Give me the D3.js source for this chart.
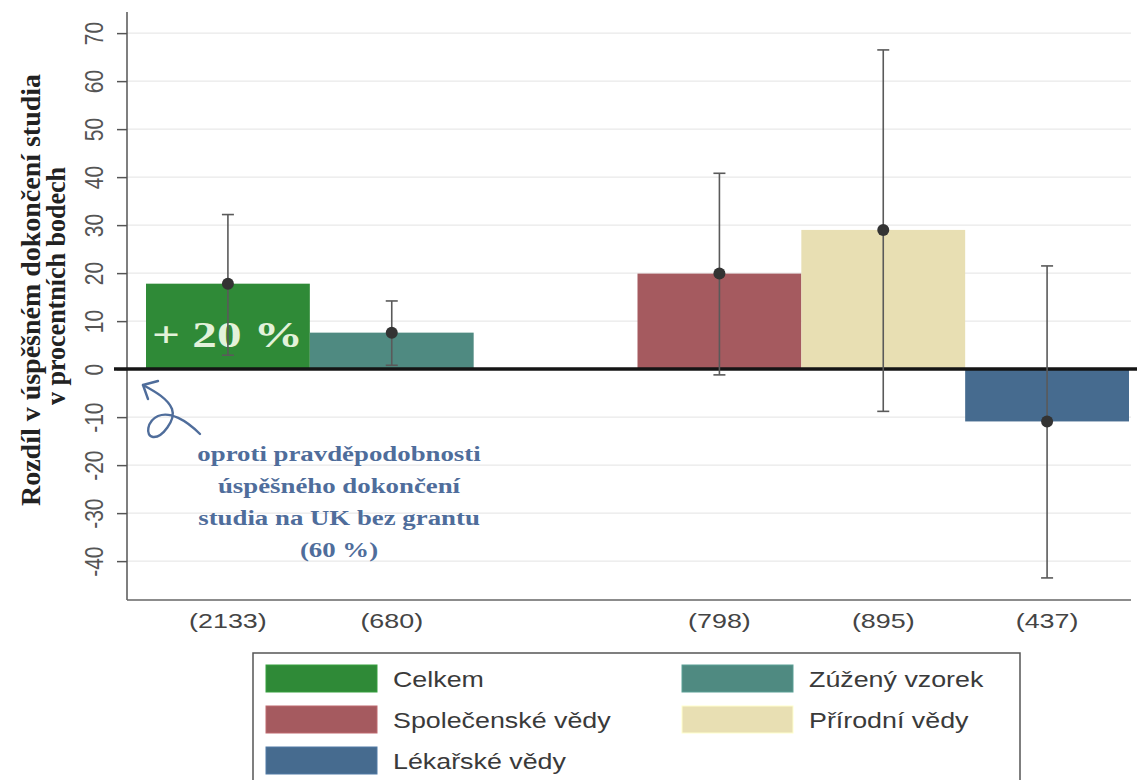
<!DOCTYPE html>
<html>
<head>
<meta charset="utf-8">
<script src="https://cdn.jsdelivr.net/npm/d3@7"></script>
<style>
  body { margin: 0; background: #fff; }
  svg { display: block; }
</style>
</head>
<body>
<svg></svg>
<script>
const WIDTH = 1137;
const HEIGHT = 780;
const SX = 1.22; // source picture is stretched sideways

// data
const categories = ["Celkem", "Zúžený vzorek", "Společenské vědy", "Přírodní vědy", "Lékařské vědy"];
const slots = [0, 1, 3, 4, 5]; // slot 2 is left empty
const values = [17.8, 7.6, 19.9, 29.0, -10.9];
const lower = [2.9, 0.8, -1.2, -8.8, -43.5];
const upper = [32.2, 14.2, 40.8, 66.5, 21.5];
const counts = ["(2133)", "(680)", "(798)", "(895)", "(437)"];
const colors = ["#2f8a37", "#4f8a81", "#a55a5f", "#e8dfb3", "#466b8f"];
const yTicks = d3.range(-40, 71, 10);
const noteLines = ["oproti pravděpodobnosti", "úspěšného dokončení", "studia na UK bez grantu", "(60 %)"];

const svg = d3.select("svg")
    .attr("width", WIDTH)
    .attr("height", HEIGHT)
    .style("font-family", "Liberation Sans, Arial, sans-serif");

const AXIS_X = 127;
const PLOT_RIGHT = 1131;

const x = d3.scaleBand()
    .domain(d3.range(6))
    .range([146, 1129])
    .paddingInner(0);

const y = d3.scaleLinear()
    .domain([-48.1, 74.4])
    .range([600, 12]);

// grid
svg.append("g")
  .selectAll("line")
  .data(yTicks)
  .join("line")
    .attr("x1", AXIS_X)
    .attr("x2", PLOT_RIGHT)
    .attr("y1", d => y(d))
    .attr("y2", d => y(d))
    .attr("stroke", "#e9e9e9")
    .attr("stroke-width", 1.2);

// y axis
const yAxis = svg.append("g")
    .attr("transform", `translate(${AXIS_X},0)`)
    .call(d3.axisLeft(y).tickValues(yTicks).tickSize(10).tickFormat(d3.format("d")));
yAxis.select(".domain").remove();
yAxis.selectAll(".tick line").attr("stroke", "#555").attr("stroke-width", 1.5);
yAxis.selectAll(".tick text").remove();
yAxis.selectAll(".tick")
  .append("text")
    .attr("transform", `translate(-24,0) scale(${SX},1) rotate(-90)`)
    .attr("text-anchor", "middle")
    .attr("fill", "#555")
    .style("font-size", "21px")
    .style("font-family", "Liberation Sans, Arial, sans-serif")
    .text(d => d);

svg.append("line")
    .attr("x1", AXIS_X).attr("x2", AXIS_X)
    .attr("y1", 12).attr("y2", 600)
    .attr("stroke", "#555").attr("stroke-width", 1.5);

// x axis
svg.append("line")
    .attr("x1", AXIS_X).attr("x2", PLOT_RIGHT)
    .attr("y1", 600).attr("y2", 600)
    .attr("stroke", "#666").attr("stroke-width", 1.5);

svg.append("g")
  .selectAll("text")
  .data(counts)
  .join("text")
    .attr("transform", (d, i) => `translate(${x(slots[i]) + x.bandwidth() / 2},628) scale(1.28,1)`)
    .attr("text-anchor", "middle")
    .attr("fill", "#444")
    .style("font-size", "21px")
    .text(d => d);

// y title
const title = svg.append("g")
    .style("font-family", "Liberation Serif, Times New Roman, serif")
    .style("font-weight", "bold")
    .attr("fill", "#222");
title.append("text")
    .attr("transform", `translate(40,290) scale(${SX},1) rotate(-90)`)
    .attr("text-anchor", "middle")
    .style("font-size", "22px")
    .attr("textLength", 432)
    .attr("lengthAdjust", "spacingAndGlyphs")
    .text("Rozdíl v úspěšném dokončení studia");
title.append("text")
    .attr("transform", `translate(65,286) scale(${SX},1) rotate(-90)`)
    .attr("text-anchor", "middle")
    .style("font-size", "22px")
    .attr("textLength", 238)
    .attr("lengthAdjust", "spacingAndGlyphs")
    .text("v procentních bodech");

// bars
svg.append("g")
  .selectAll("rect")
  .data(values)
  .join("rect")
    .attr("x", (d, i) => x(slots[i]))
    .attr("width", x.bandwidth())
    .attr("y", d => y(Math.max(0, d)))
    .attr("height", d => Math.abs(y(d) - y(0)))
    .attr("fill", (d, i) => colors[i]);

// big label on first bar
svg.append("text")
    .attr("x", 152)
    .attr("y", 347)
    .attr("fill", "#e3f2da")
    .style("font-family", "Liberation Serif, Times New Roman, serif")
    .style("font-weight", "bold")
    .style("font-size", "36px")
    .attr("textLength", 151)
    .attr("lengthAdjust", "spacingAndGlyphs")
    .text("+ 20 %");

// zero line
svg.append("line")
    .attr("x1", 114).attr("x2", WIDTH)
    .attr("y1", y(0)).attr("y2", y(0))
    .attr("stroke", "#151515").attr("stroke-width", 3.5);

// error bars
const err = svg.append("g")
  .selectAll("g")
  .data(values)
  .join("g")
    .attr("transform", (d, i) => `translate(${x(slots[i]) + x.bandwidth() / 2},0)`);
err.append("line")
    .attr("y1", (d, i) => y(lower[i]))
    .attr("y2", (d, i) => y(upper[i]))
    .attr("stroke", "#5a5a5a").attr("stroke-width", 1.6);
err.append("line")
    .attr("x1", -6).attr("x2", 6)
    .attr("y1", (d, i) => y(lower[i])).attr("y2", (d, i) => y(lower[i]))
    .attr("stroke", "#5a5a5a").attr("stroke-width", 1.6);
err.append("line")
    .attr("x1", -6).attr("x2", 6)
    .attr("y1", (d, i) => y(upper[i])).attr("y2", (d, i) => y(upper[i]))
    .attr("stroke", "#5a5a5a").attr("stroke-width", 1.6);
err.append("circle")
    .attr("cy", d => y(d))
    .attr("r", 6)
    .attr("fill", "#333");

// hand drawn arrow + note
const NOTE = "#4f6d9b";
svg.append("path")
    .attr("d", "M143,385 C156,392 168,399 172,409 C176,420 162,438 153,437 C145,436 147,421 158,416 C170,411 186,420 200,434")
    .attr("fill", "none").attr("stroke", NOTE).attr("stroke-width", 2.4).attr("stroke-linecap", "round");
svg.append("path")
    .attr("d", "M158,381 L143,385 L148,399")
    .attr("fill", "none").attr("stroke", NOTE).attr("stroke-width", 2.4)
    .attr("stroke-linecap", "round").attr("stroke-linejoin", "round");

svg.append("g")
  .selectAll("text")
  .data(noteLines)
  .join("text")
    .attr("transform", (d, i) => `translate(339,${461 + i * 32}) scale(${SX},1)`)
    .attr("text-anchor", "middle")
    .attr("fill", NOTE)
    .style("font-family", "Liberation Serif, Times New Roman, serif")
    .style("font-weight", "bold")
    .style("font-size", "22px")
    .text(d => d);

// legend
const legend = svg.append("g");
legend.append("rect")
    .attr("x", 253).attr("y", 653)
    .attr("width", 767).attr("height", 140)
    .attr("fill", "#fff").attr("stroke", "#555").attr("stroke-width", 1.5);

const item = legend.selectAll("g.item")
  .data(categories)
  .join("g")
    .attr("class", "item")
    .attr("transform", (d, i) => `translate(${i % 2 ? 682 : 266},${665 + Math.floor(i / 2) * 41})`);
item.append("rect")
    .attr("width", 111).attr("height", 27)
    .attr("fill", (d, i) => colors[i])
    .attr("stroke", (d, i) => d3.color(colors[i]).brighter(0.4))
    .attr("stroke-width", 1);
item.append("text")
    .attr("transform", `translate(127,22) scale(${SX},1)`)
    .attr("fill", "#3a3a3a")
    .style("font-size", "22px")
    .text(d => d);
</script>
</body>
</html>
